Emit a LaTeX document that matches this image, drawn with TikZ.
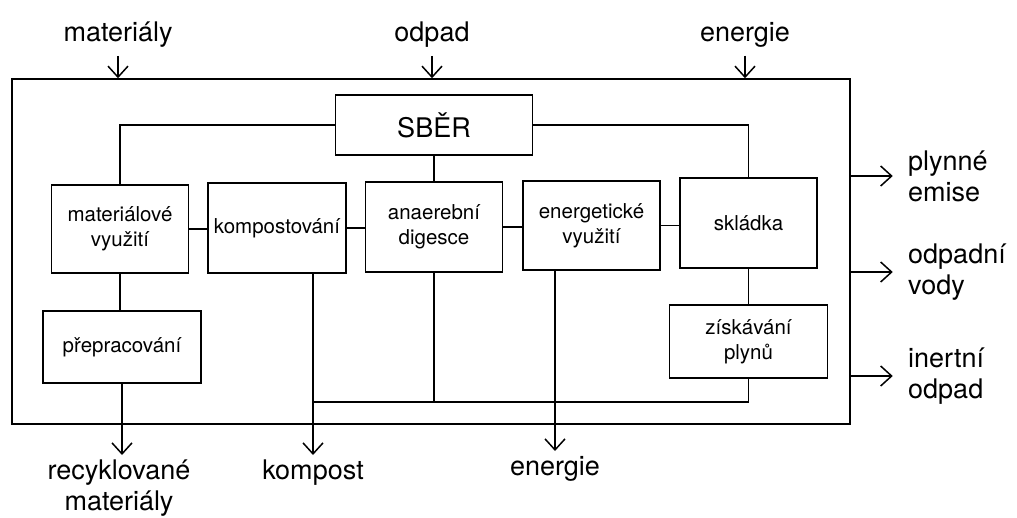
\documentclass[tikz,border=0pt]{standalone}
\usepackage{fontspec}
\setmainfont{TeX Gyre Heros}
\usetikzlibrary{arrows.meta, positioning}

\tikzset{
  block/.style={draw, line width=1.5pt, align=center, inner sep=2pt,
    font=\fontsize{20.5}{25}\selectfont},
  flowlab/.style={align=center, inner sep=0pt, font=\fontsize{27}{31}\selectfont},
  flow/.style={line width=1.5pt, -{Straight Barb[length=11pt, width=20pt, line width=1.5pt]}},
  link/.style={line width=1.5pt}
}

\begin{document}
\begin{tikzpicture}[x=1pt, y=-1pt]
    \useasboundingbox (0,0) rectangle (1017,518);

    % System boundary
    \node[draw, line width=1.5pt, minimum width=838pt, minimum height=345pt,
      inner sep=0pt] (frame) at (431,251.5) {};

    % Collection and treatment blocks
    \node[block, minimum width=197pt, minimum height=60pt,
      font=\fontsize{27}{31}\selectfont] (sber) at (434,125) {SBĚR};
    \node[block, minimum width=137pt, minimum height=88pt] (mat)  at (120,229) {materiálové\\využití};
    \node[block, minimum width=138pt, minimum height=90pt] (komp) at (277,228) {kompostování};
    \node[block, minimum width=137pt, minimum height=90pt] (anae) at (434,227) {anaerební\\digesce};
    \node[block, minimum width=137pt, minimum height=89pt] (ener) at (591.5,225.5) {energetické\\využití};
    \node[block, minimum width=137pt, minimum height=90pt] (skl)  at (748.5,223) {skládka};
    \node[block, minimum width=158pt, minimum height=72pt] (prep) at (122,347) {přepracování};
    \node[block, minimum width=158pt, minimum height=73pt] (zisk) at (748.5,341.5) {získávání\\plynů};

    % Inputs
    \foreach \name/\xx/\lab in {inmat/118/materiály, inodp/432/odpad, inene/745/energie}{
      \node[flowlab] (\name) at (\xx,35) {\lab};
      \draw[flow] (\name.south) ++(0,8) -- (\name.south |- frame.north);
    }

    % Outputs (right)
    \foreach \name/\yy/\lab in {outemi/176/{plynné\\emise}, outvod/272/{odpadní\\vody},
        outine/376/{inertní\\odpad}}{
      \node[flowlab, align=left, anchor=west] (\name) at (908,\yy) {\lab};
      \draw[flow] (frame.east |- \name.west) -- ++(42,0);
    }

    % Outputs (bottom)
    \node[flowlab, anchor=north] (outrec) at (119,460) {recyklované\\materiály};
    \node[flowlab, anchor=north] (outkom) at (313,460) {kompost};
    \node[flowlab, anchor=north] (outene) at (555,456) {energie};
    \draw[flow] (prep.south) -- ([yshift=5pt]outrec.north -| prep.south);
    \draw[flow] (komp.south -| 313,0) -- ([yshift=5pt]outkom.north);
    \draw[flow] (ener.south -| outene.north) -- ([yshift=5pt]outene.north);

    % Links between blocks
    \draw[link] (sber.west) -| (mat.north);
    \draw[link] (sber.east) -| (skl.north);
    \draw[link] (sber.south) -- (anae.north);
    \foreach \a/\b in {mat/komp, komp/anae, anae/ener, ener/skl}{
      \draw[link] (\a.east) -- (\a.east -| \b.west);
    }
    \draw[link] (mat.south) -- (mat.south |- prep.north);
    \draw[link] (skl.south) -- (zisk.north);

    % Return line to compost
    \coordinate (join) at (313,402);
    \draw[link] (zisk.south) |- (join);
    \draw[link] (anae.south) -- (anae.south |- join);
  \end{tikzpicture}
\end{document}
